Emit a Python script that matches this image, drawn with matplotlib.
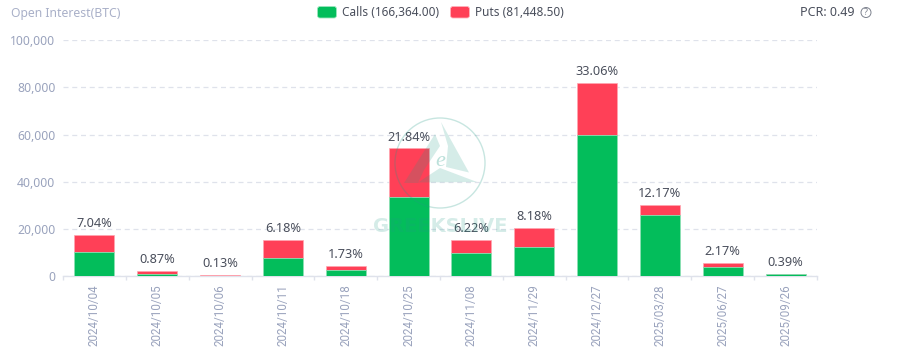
import matplotlib
matplotlib.use('Agg')
import matplotlib.pyplot as plt
from matplotlib.patches import Circle, FancyBboxPatch, Polygon

plt.rcParams['font.family'] = ['Noto Sans', 'DejaVu Sans']

dates = ['2024/10/04', '2024/10/05', '2024/10/06', '2024/10/11', '2024/10/18', '2024/10/25',
         '2024/11/08', '2024/11/29', '2024/12/27', '2025/03/28', '2025/06/27', '2025/09/26']
calls = [10000, 1000, 200, 7800, 2400, 33400, 9600, 12300, 59700, 25900, 3800, 750]
puts = [7450, 1150, 120, 7500, 1900, 20700, 5800, 8000, 22200, 4260, 1580, 220]
shares = ['7.04%', '0.87%', '0.13%', '6.18%', '1.73%', '21.84%',
          '6.22%', '8.18%', '33.06%', '12.17%', '2.17%', '0.39%']
yticks = [0, 20000, 40000, 60000, 80000, 100000]

GREEN = '#03bd5b'
RED = '#ff4057'
GREY = '#9aa3bd'
TEXT = '#4a4f5c'
AXIS = '#dfe2eb'

W, H = 900, 356
fig = plt.figure(figsize=(W / 100, H / 100), dpi=100)
ax = fig.add_axes([63 / W, 1 - 276 / H, (817 - 63) / W, (276 - 40.3) / H])

x = range(len(dates))
ax.bar(x, puts, bottom=calls, width=0.636, color=RED, edgecolor='#ffa5b0', linewidth=0.5, zorder=3)
ax.bar(x, calls, width=0.636, color=GREEN, edgecolor='#8fe0b5', linewidth=0.5, zorder=4)

for i in x:
    ax.annotate(shares[i], (i, calls[i] + puts[i]), xytext=(0, 3.5), textcoords='offset points',
                ha='center', va='bottom', fontsize=9.2, color=TEXT, zorder=5)

ax.set_xlim(-0.5, len(dates) - 0.5)
ax.set_ylim(0, 100000)
ax.set_yticks(yticks)
ax.set_yticklabels([f'{v:,}' for v in yticks], fontsize=8.8, color=GREY)
ax.set_xticks(list(x))
ax.set_xticklabels(dates, rotation=90, fontsize=8.4, color=GREY, family='Roboto')
ax.set_xticks([i - 0.5 for i in range(len(dates) + 1)], minor=True)
ax.tick_params(axis='y', length=0, pad=5.5)
ax.tick_params(axis='x', which='major', length=0, pad=6)
ax.tick_params(axis='x', which='minor', length=3, width=1, color=AXIS)
ax.grid(axis='y', color=AXIS, linestyle=(0, (4, 3)), linewidth=0.9, zorder=0)
ax.set_axisbelow(True)
for side in ['top', 'left', 'right']:
    ax.spines[side].set_visible(False)
ax.spines['bottom'].set_color(AXIS)
ax.spines['bottom'].set_linewidth(1)

# overlay in pixel coordinates for header and watermark
over = fig.add_axes([0, 0, 1, 1], zorder=10)
over.set_xlim(0, W)
over.set_ylim(H, 0)
over.axis('off')
over.patch.set_alpha(0)

over.text(11, 14, 'Open Interest(BTC)', fontsize=8.8, color='#a9b0c8', va='center')
over.add_patch(FancyBboxPatch((317.5, 6.5), 19, 11.5, boxstyle='round,pad=0,rounding_size=2.5',
                              facecolor=GREEN, edgecolor='#9be6bd', linewidth=0.6))
over.text(342.5, 12, 'Calls (166,364.00)', fontsize=8.5, color=TEXT, va='center')
over.add_patch(FancyBboxPatch((450.5, 6.5), 19, 11.5, boxstyle='round,pad=0,rounding_size=2.5',
                              facecolor=RED, edgecolor='#ffb0ba', linewidth=0.6))
over.text(475, 12, 'Puts (81,448.50)', fontsize=8.5, color=TEXT, va='center')
over.text(800, 12.5, 'PCR: 0.49', fontsize=9, color=TEXT, va='center')
over.add_patch(Circle((866, 12.5), 5, fill=False, edgecolor='#7d828e', linewidth=0.7))
over.text(866, 12.5, '?', fontsize=6.5, color='#7d828e', ha='center', va='center')

# watermark
mark = '#229b86'
over.add_patch(Circle((440, 163), 45, fill=False, edgecolor=mark, linewidth=1, alpha=0.25))
over.add_patch(Polygon([(404, 183), (435, 134), (440, 146), (424, 170), (418, 183)], facecolor=mark, alpha=0.19, lw=0))
over.add_patch(Polygon([(441, 122), (469, 172.5), (446, 167), (448, 146)], facecolor=mark, alpha=0.19, lw=0))
over.add_patch(Polygon([(418, 182.5), (440, 168), (477, 182)], facecolor=mark, alpha=0.19, lw=0))
over.text(440, 161, 'e', fontsize=16, style='italic', family='Liberation Serif', color=mark, alpha=0.3,
          ha='center', va='center')
over.text(440.5, 227, 'GREEKSLIVE', fontsize=14, fontweight='bold', family='DejaVu Sans', color=mark, alpha=0.19,
          ha='center', va='center')

fig.savefig('out.png', dpi=100, facecolor='white')
